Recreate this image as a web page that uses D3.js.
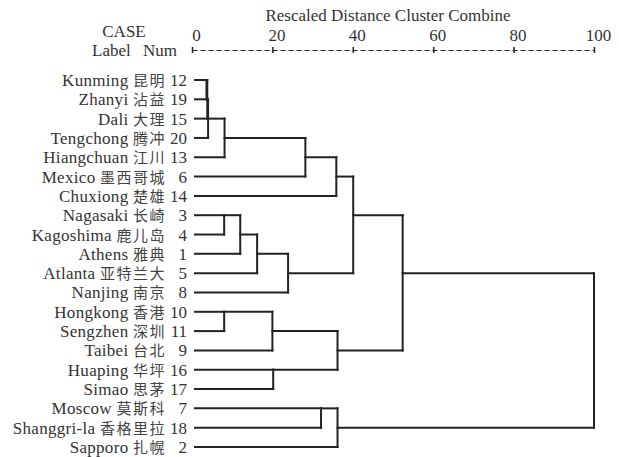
<!DOCTYPE html>
<html>
<head>
<meta charset="utf-8">
<script src="https://cdn.jsdelivr.net/npm/d3@7"></script>
<style>
  body { margin: 0; background: #fff; }
  text { font-family: "Liberation Serif", "Times New Roman", serif; fill: #333; }
  .cn { font-family: "Noto Sans CJK SC", sans-serif; }
</style>
</head>
<body>
<div id="view"></div>
<script>
var width = 619, height = 457;

// 城市（表示順）
var names  = ["Kunming", "Zhanyi", "Dali", "Tengchong", "Hiangchuan", "Mexico", "Chuxiong",
              "Nagasaki", "Kagoshima", "Athens", "Atlanta", "Nanjing", "Hongkong", "Sengzhen",
              "Taibei", "Huaping", "Simao", "Moscow", "Shanggri-la", "Sapporo"];
var cnNames = ["昆明", "沾益", "大理", "腾冲", "江川", "墨西哥城", "楚雄",
               "长崎", "鹿儿岛", "雅典", "亚特兰大", "南京", "香港", "深圳",
               "台北", "华坪", "思茅", "莫斯科", "香格里拉", "扎幌"];
var caseNums = [12, 19, 15, 20, 13, 6, 14, 3, 4, 1, 5, 8, 10, 11, 9, 16, 17, 7, 18, 2];

// 結合の順序 [ケースA, ケースB, 距離]
var merges = [
	[12, 19, 3.6], [12, 15, 3.8], [12, 20, 4.0], [12, 13, 8.1],
	[3, 4, 8.0], [10, 11, 8.0], [3, 1, 12.0], [3, 5, 16.2],
	[10, 9, 20.0], [16, 17, 20.2], [3, 8, 23.9], [12, 6, 28.2],
	[7, 18, 32.1], [12, 14, 35.9], [10, 16, 36.2], [7, 2, 36.2],
	[12, 3, 40.1], [12, 10, 52.4], [12, 7, 100]
];

// 目盛り
var tickVals = [0, 20, 40, 60, 80, 100];

var svg = d3.select("#view").append("svg")
	.attr("width", width)
	.attr("height", height);

svg.append("rect").attr("width", width).attr("height", height).attr("fill", "#fff");

var x = d3.scaleLinear().domain([0, 100]).range([192, 594]);
var y = d3.scaleLinear().domain([0, caseNums.length - 1]).range([80, 447]);

// 見出し
svg.append("text").attr("x", 388).attr("y", 21).attr("text-anchor", "middle")
	.style("font-size", "17px").text("Rescaled Distance Cluster Combine");
svg.append("text").attr("x", 124).attr("y", 37).attr("text-anchor", "middle")
	.style("font-size", "17px").text("CASE");
svg.append("text").attr("x", 92).attr("y", 56)
	.style("font-size", "17px").text("Label");
svg.append("text").attr("x", 177).attr("y", 56).attr("text-anchor", "end")
	.style("font-size", "17px").text("Num");

// 軸
var axis = svg.append("g")
	.attr("transform", "translate(0,50)")
	.call(d3.axisTop(x).tickValues(tickVals).tickSizeInner(3).tickSizeOuter(0).tickPadding(6));
axis.select(".domain").attr("stroke", "#222").attr("stroke-width", 1.2).attr("stroke-dasharray", "5,3");
axis.selectAll(".tick line").attr("stroke", "#222").attr("stroke-width", 1.5).attr("y2", 3).attr("y1", -3);
axis.selectAll(".tick text")
	.attr("dx", 4)
	.style("font-family", "'Liberation Serif', serif")
	.style("font-size", "17px")
	.attr("fill", "#333");

// ラベル
var rows = svg.selectAll(".label")
	.data(caseNums).enter()
	.append("g")
	.attr("class", "label");

rows.append("text")
	.attr("x", 166)
	.attr("y", function(d, i) { return y(i) + 6; })
	.attr("text-anchor", "end")
	.style("font-size", "17px")
	.each(function(d, i) {
		var t = d3.select(this);
		t.append("tspan").style("letter-spacing", "0.3px").text(names[i] + " ");
		t.append("tspan").attr("class", "cn").style("font-size", "15px")
			.style("letter-spacing", "1.5px").attr("fill", "#444").text(cnNames[i]);
	});

rows.append("text")
	.attr("x", 187)
	.attr("y", function(d, i) { return y(i) + 6; })
	.attr("text-anchor", "end")
	.style("font-size", "17px")
	.text(function(d) { return d; });

// 樹形図
var state = {};   // ケース番号 -> {row, xpos}
caseNums.forEach(function(c, i) { state[c] = { row: i, xpos: x(0) + 3 }; });

var hLines = [], vLines = [];
merges.forEach(function(m) {
	var a = state[m[0]], b = state[m[1]];
	var xm = x(m[2]);
	hLines.push({ x1: a.xpos, x2: xm, row: a.row });
	hLines.push({ x1: b.xpos, x2: xm, row: b.row });
	var r1 = Math.min(a.row, b.row), r2 = Math.max(a.row, b.row);
	vLines.push({ x: xm, r1: r1, r2: r2 });
	state[m[0]] = { row: Math.floor((r1 + r2) / 2), xpos: xm };
});

svg.selectAll(".hline")
	.data(hLines).enter()
	.append("line")
	.attr("class", "hline")
	.attr("x1", function(d) { return d.x1; })
	.attr("x2", function(d) { return d.x2; })
	.attr("y1", function(d) { return y(d.row); })
	.attr("y2", function(d) { return y(d.row); })
	.style("stroke", "#222")
	.style("stroke-width", 2)
	.style("stroke-linecap", "square");

svg.selectAll(".vline")
	.data(vLines).enter()
	.append("line")
	.attr("class", "vline")
	.attr("x1", function(d) { return d.x; })
	.attr("x2", function(d) { return d.x; })
	.attr("y1", function(d) { return y(d.r1); })
	.attr("y2", function(d) { return y(d.r2); })
	.style("stroke", "#222")
	.style("stroke-width", 2)
	.style("stroke-linecap", "square");
</script>
</body>
</html>
